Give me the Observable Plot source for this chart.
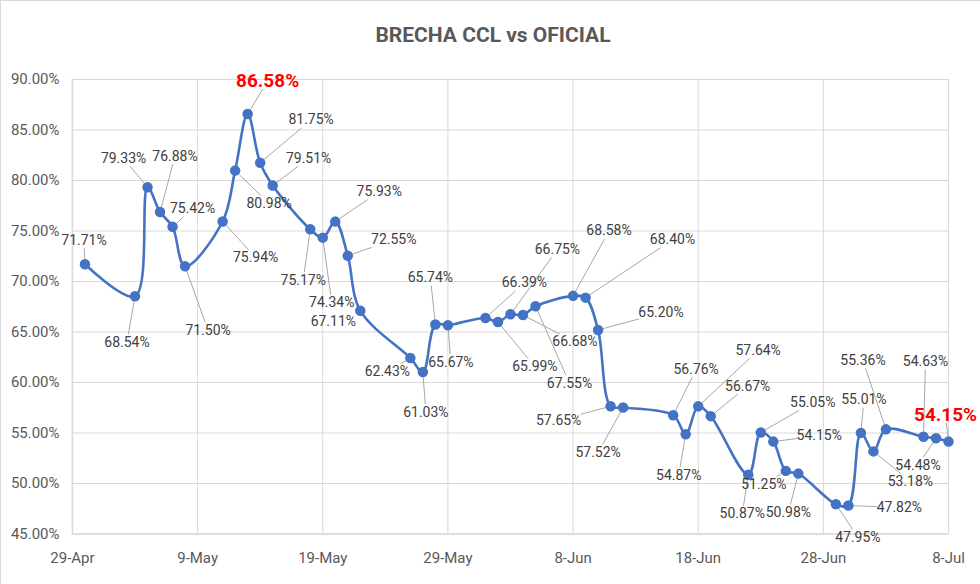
<!DOCTYPE html>
<html>
<head>
<meta charset="utf-8">
<script src="https://cdn.jsdelivr.net/npm/d3@7"></script>
<script src="https://cdn.jsdelivr.net/npm/@observablehq/plot@0.6"></script>
<style>
  html, body { margin: 0; padding: 0; background: #fff; }
  #frame { position: relative; width: 979px; height: 583px; border-top: 1px solid #d9d9d9; border-left: 1px solid #d9d9d9; overflow: hidden; }
  #title { height: 59px; text-align: center; font-family: "Liberation Sans Narrow", "Roboto", sans-serif; font-weight: bold; font-size: 21px; color: #595959; line-height: 68px; margin-left: 5px; }
  #chart svg { display: block; }
</style>
</head>
<body>
<div id="frame">
  <div id="title">BRECHA CCL vs OFICIAL</div>
  <div id="chart"></div>
</div>
<script>
// ---- data ----
const dates = [
  "2020-04-30", "2020-05-04", "2020-05-05", "2020-05-06", "2020-05-07", "2020-05-08",
  "2020-05-11", "2020-05-12", "2020-05-13", "2020-05-14", "2020-05-15",
  "2020-05-18", "2020-05-19", "2020-05-20", "2020-05-21", "2020-05-22",
  "2020-05-26", "2020-05-27", "2020-05-28", "2020-05-29",
  "2020-06-01", "2020-06-02", "2020-06-03", "2020-06-04", "2020-06-05",
  "2020-06-08", "2020-06-09", "2020-06-10", "2020-06-11", "2020-06-12",
  "2020-06-16", "2020-06-17", "2020-06-18", "2020-06-19",
  "2020-06-22", "2020-06-23", "2020-06-24", "2020-06-25", "2020-06-26",
  "2020-06-29", "2020-06-30", "2020-07-01", "2020-07-02", "2020-07-03",
  "2020-07-06", "2020-07-07", "2020-07-08"
];
const brecha = [
  71.71, 68.54, 79.33, 76.88, 75.42, 71.50,
  75.94, 80.98, 86.58, 81.75, 79.51,
  75.17, 74.34, 75.93, 72.55, 67.11,
  62.43, 61.03, 65.74, 65.67,
  66.39, 65.99, 66.75, 66.68, 67.55,
  68.58, 68.40, 65.20, 57.65, 57.52,
  56.76, 54.87, 57.64, 56.67,
  50.87, 55.05, 54.15, 51.25, 50.98,
  47.95, 47.82, 55.01, 53.18, 55.36,
  54.63, 54.48, 54.15
];
const highlighted = ["2020-05-13", "2020-07-08"];   // max and last value, shown in red
const xTickDates = ["2020-04-29", "2020-05-09", "2020-05-19", "2020-05-29", "2020-06-08", "2020-06-18", "2020-06-28", "2020-07-08"];
const yTicks = [45, 50, 55, 60, 65, 70, 75, 80, 85, 90];

// label placement (pixel offset of label centre from its point), as in the Excel chart
const labelDx = [-1, -8, -24, 15, 20, 23, 33, 34, 20, 51, 36, -7, 9, 44, 46, -27, -23, 3, -5, 3,
  39, 37, 47, 52, 34, 36, 87, 63, -52, -25, 23, -7, 60, 37, -6, 52, 46, -22, -10, 22, 51, 3, 37, -23, 2, -18, -3];
const labelDy = [-24, 46, -29, -56, -18, 64, 36, 33, -33, -43, -27, 51, 65, -30, -16, 11, 14, 40, -47, 37,
  -35, 45, -65, 27, 77, -65, -58, -17, 14, 45, -46, 41, -56, -30, 39, -30, -6, 14, 39, 33, 2, -33, 30, -69, -75, 27, -27];

// ---- layout ----
const W = 980, H = 525, mL = 71, mR = 32, mT = 19, mB = 51;
const parse = s => new Date(s + "T00:00:00Z");
const xDomain = [parse(xTickDates[0]), parse(xTickDates[xTickDates.length - 1])];
const yDomain = [45, 90];
const pxPerMs = (W - mL - mR) / (xDomain[1] - xDomain[0]);
const pxPerPct = (H - mT - mB) / (yDomain[1] - yDomain[0]);

const fmtPct = v => v.toFixed(2) + "%";
const fmtDate = d3.utcFormat("%-d-%b");

const rows = dates.map((d, i) => {
  const date = parse(d);
  const v = brecha[i];
  const hi = highlighted.includes(d);
  const dx = labelDx[i], dy = labelDy[i];
  const lx = new Date(+date + dx / pxPerMs);
  const ly = v - dy / pxPerPct;
  // leader line: from point edge to label box edge (pixel space), then back to data space
  const halfW = hi ? 28 : 22, halfH = 8;
  const dist = Math.hypot(dx, dy);
  let t = Infinity;
  if (dx !== 0) t = Math.min(t, halfW / Math.abs(dx));
  if (dy !== 0) t = Math.min(t, halfH / Math.abs(dy));
  const endFrac = 1 - t;
  const startFrac = 5 / dist;
  const leader = (endFrac - startFrac) * dist > 6;
  return {
    date, v, hi, lx, ly, leader,
    x1: new Date(+date + dx * startFrac / pxPerMs), y1: v - dy * startFrac / pxPerPct,
    x2: new Date(+date + dx * endFrac / pxPerMs), y2: v - dy * endFrac / pxPerPct
  };
});

const chart = Plot.plot({
  width: W, height: H,
  marginLeft: mL, marginRight: mR, marginTop: mT, marginBottom: mB,
  style: { fontFamily: "'Liberation Sans Narrow', Roboto, sans-serif", fontSize: "15px", color: "#595959", background: "#fff", overflow: "visible" },
  x: { type: "utc", domain: xDomain, ticks: xTickDates.map(parse), tickFormat: fmtDate, tickSize: 0, tickPadding: 18, label: null },
  y: { domain: yDomain, ticks: yTicks, tickFormat: fmtPct, tickSize: 0, tickPadding: 13, label: null },
  marks: [
    Plot.gridY(yTicks, { stroke: "#d9d9d9", strokeOpacity: 1, strokeWidth: 1 }),
    Plot.gridX(xTickDates.map(parse), { stroke: "#d9d9d9", strokeOpacity: 1, strokeWidth: 1 }),
    Plot.ruleY([45], { stroke: "#d9d9d9", strokeWidth: 1.5 }),
    Plot.ruleX([xDomain[0]], { stroke: "#d9d9d9", strokeWidth: 1.5 }),
    Plot.link(rows.filter(r => r.leader), { x1: "x1", y1: "y1", x2: "x2", y2: "y2", stroke: "#a6a6a6", strokeWidth: 1 }),
    Plot.line(rows, { x: "date", y: "v", stroke: "#4472c4", strokeWidth: 2.6, curve: "catmull-rom" }),
    Plot.dot(rows, { x: "date", y: "v", r: 4.5, fill: "#4472c4", stroke: "#4472c4" }),
    Plot.text(rows.filter(r => !r.hi), { x: "lx", y: "ly", text: r => fmtPct(r.v), fill: "#404040", fontSize: 14 }),
    Plot.text(rows.filter(r => r.hi), { x: "lx", y: "ly", text: r => fmtPct(r.v), fill: "#ff0000", fontSize: 19, fontWeight: "bold" })
  ]
});
document.getElementById("chart").appendChild(chart);
</script>
</body>
</html>
